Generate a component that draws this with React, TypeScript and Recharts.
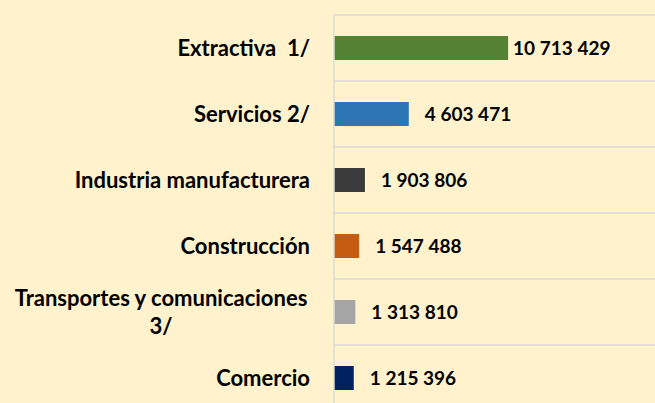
import { BarChart, Bar, XAxis, YAxis, CartesianGrid, Cell, LabelList } from 'recharts';

const categories = [
  'Extractiva  1/',
  'Servicios 2/',
  'Industria manufacturera',
  'Construcción',
  'Transportes y comunicaciones 3/',
  'Comercio',
];
const values = [10713429, 4603471, 1903806, 1547488, 1313810, 1215396];
const colors = ['#548235', '#2E75B6', '#3B3B3B', '#C55A11', '#A5A5A5', '#002060'];

const data = categories.map((name, i) => ({ name, value: values[i] }));

const FONT = 'Lato, "Open Sans", sans-serif';

// miles separados por espacio
const fmt = (v: number) => String(v).replace(/\B(?=(\d{3})+(?!\d))/g, ' ');

function CategoryTick(props: any) {
  const { x, y, payload } = props;
  const label: string = payload.value;
  if (label.length > 25) {
    const cut = label.lastIndexOf(' ');
    const lines = [label.slice(0, cut), label.slice(cut + 1)];
    return (
      <text x={x - 149} y={y} textAnchor="middle" fontFamily={FONT} fontWeight={700} fontSize={22} fill="#000">
        <tspan x={x - 149} dy={-14 + 8}>{lines[0]}</tspan>
        <tspan x={x - 149} dy={28}>{lines[1]}</tspan>
      </text>
    );
  }
  return (
    <text x={x} y={y} dy={8} textAnchor="end" fontFamily={FONT} fontWeight={700} fontSize={22} fill="#000" style={{ whiteSpace: 'pre' }}>
      {label}
    </text>
  );
}

function ValueLabel(props: any) {
  const { x, y, width, height, value, index } = props;
  const gap = index === 0 ? 5 : 16;
  return (
    <text x={x + width + gap} y={y + height / 2} dy={7} textAnchor="start" fontFamily={FONT} fontWeight={700} fontSize={19} fill="#000">
      {fmt(value)}
    </text>
  );
}

export default function App() {
  return (
    <div style={{ position: 'absolute', left: 0, top: 0, width: 655, height: 403, overflow: 'hidden', background: '#FFF2CC' }}>
      <BarChart
        width={659}
        height={411}
        data={data}
        layout="vertical"
        margin={{ top: 15, right: 0, bottom: 0, left: 0 }}
        barSize={24}
      >
        <CartesianGrid
          vertical={false}
          stroke="#D9D9D9"
          strokeWidth={1.5}
          horizontalCoordinatesGenerator={({ offset }: any) =>
            categories.map((_, i) => offset.top + (i * offset.height) / categories.length).concat(offset.top + offset.height)
          }
        />
        <XAxis type="number" domain={[0, 20000000]} hide />
        <YAxis
          type="category"
          dataKey="name"
          width={334}
          axisLine={{ stroke: '#D9D9D9', strokeWidth: 1.5 }}
          tickLine={false}
          tickSize={0}
          tickMargin={24}
          tick={<CategoryTick />}
          interval={0}
        />
        <Bar dataKey="value" isAnimationActive={false}>
          {data.map((_, i) => (
            <Cell key={`c-${i}`} fill={colors[i]} />
          ))}
          <LabelList dataKey="value" content={<ValueLabel />} />
        </Bar>
      </BarChart>
    </div>
  );
}
